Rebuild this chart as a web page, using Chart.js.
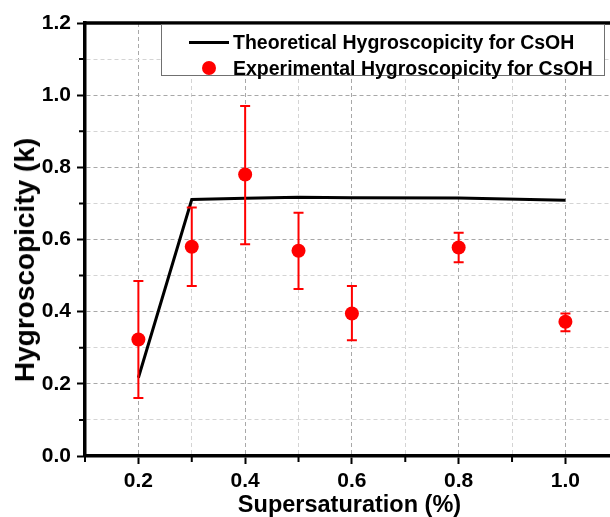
<!DOCTYPE html>
<html>
<head>
<meta charset="utf-8">
<script src="https://cdn.jsdelivr.net/npm/chart.js@4"></script>
<style>
  body { margin: 0; background: #fff; overflow: hidden; }
  #wrap { position: relative; width: 610px; height: 517px; overflow: hidden; }
  #legend {
    position: absolute; left: 161px; top: 24px; width: 442px; height: 50px;
    border: 1.5px solid #707070; background: #fff;
    font-family: "Liberation Sans", Arial, sans-serif; font-weight: bold; font-size: 19.5px; color: #000;
  }
  #legend .row { position: absolute; left: 0; height: 24px; line-height: 24px; white-space: nowrap; }
  #legend .sym { position: absolute; }
  #legend .txt { position: absolute; left: 71px; }
  #ytitle {
    position: absolute; left: 25px; top: 260px; white-space: nowrap;
    font-family: "Liberation Sans", Arial, sans-serif; font-weight: bold; font-size: 28px; line-height: 1;
    transform: translate(-50%, -50%) rotate(-90deg);
  }
</style>
</head>
<body>
<div id="wrap">
  <canvas id="chart" width="614" height="517"></canvas>
  <div id="ytitle">Hygroscopicity (k)</div>
  <div id="legend">
    <div class="row" style="top:5px">
      <span class="sym" style="left:27px;top:11px;width:40px;height:3px;background:#000"></span>
      <span class="txt">Theoretical Hygroscopicity for CsOH</span>
    </div>
    <div class="row" style="top:31px">
      <span class="sym" style="left:40px;top:5px;width:14px;height:14px;border-radius:50%;background:#ff0000"></span>
      <span class="txt">Experimental Hygroscopicity for CsOH</span>
    </div>
  </div>
</div>
<script>
// ===================================
// data
// ===================================
const ssTheory = [0.2, 0.3, 0.4, 0.5, 0.6, 0.8, 1.0];
const kTheory = [0.217, 0.711, 0.714, 0.717, 0.716, 0.715, 0.709];

const ssExp = [0.2, 0.3, 0.4, 0.5, 0.6, 0.8, 1.0];
const kExp = [0.323, 0.580, 0.780, 0.569, 0.395, 0.578, 0.372];
const kExpHigh = [0.485, 0.689, 0.970, 0.674, 0.471, 0.619, 0.395];
const kExpLow = [0.161, 0.471, 0.587, 0.463, 0.321, 0.537, 0.346];

const xTickValues = [0.1, 0.2, 0.3, 0.4, 0.5, 0.6, 0.7, 0.8, 0.9, 1.0];
const yTickValues = [0, 0.1, 0.2, 0.3, 0.4, 0.5, 0.6, 0.7, 0.8, 0.9, 1.0, 1.1, 1.2];

const FONT = '"Liberation Sans", Arial, sans-serif';

function isMajor(v) {
  return Math.round(v * 10) % 2 === 0;
}

// error bars for the experimental points
const errorBars = {
  id: 'errorBars',
  beforeDatasetDraw(chart, args) {
    if (args.index !== 0) return;
    const x = chart.scales.x, y = chart.scales.y, ctx = chart.ctx;
    ctx.save();
    ctx.strokeStyle = '#ff0000';
    ctx.lineWidth = 2;
    ssExp.forEach((s, i) => {
      const px = x.getPixelForValue(s);
      const top = y.getPixelForValue(kExpHigh[i]);
      const bot = y.getPixelForValue(kExpLow[i]);
      ctx.beginPath();
      ctx.moveTo(px, top); ctx.lineTo(px, bot);
      ctx.moveTo(px - 5, top); ctx.lineTo(px + 5, top);
      ctx.moveTo(px - 5, bot); ctx.lineTo(px + 5, bot);
      ctx.stroke();
    });
    ctx.restore();
  }
};

// top frame line and short minor tick marks
const frame = {
  id: 'frame',
  afterDraw(chart) {
    const x = chart.scales.x, y = chart.scales.y, ctx = chart.ctx;
    const area = chart.chartArea;
    ctx.save();
    ctx.strokeStyle = '#000';
    ctx.lineWidth = 3.5;
    ctx.beginPath();
    ctx.moveTo(area.left - 1.75, area.top);
    ctx.lineTo(area.right, area.top);
    ctx.stroke();
    ctx.lineWidth = 2;
    ctx.beginPath();
    xTickValues.filter(v => !isMajor(v)).forEach(v => {
      const px = x.getPixelForValue(v);
      ctx.moveTo(px, area.bottom); ctx.lineTo(px, area.bottom + 6);
    });
    yTickValues.filter(v => !isMajor(v)).forEach(v => {
      const py = y.getPixelForValue(v);
      ctx.moveTo(area.left, py); ctx.lineTo(area.left - 6, py);
    });
    ctx.stroke();
    ctx.restore();
  }
};

const gridColor = ctx => ctx.tick && !isMajor(ctx.tick.value) ? '#d4d4d4' : '#a8a8a8';
const tickColor = ctx => ctx.tick && !isMajor(ctx.tick.value) ? 'rgba(0,0,0,0)' : '#000';

new Chart(document.getElementById('chart'), {
  type: 'line',
  data: {
    datasets: [
      {
        label: 'Experimental Hygroscopicity for CsOH',
        data: ssExp.map((s, i) => ({x: s, y: kExp[i]})),
        showLine: false,
        pointRadius: 7,
        pointBackgroundColor: '#ff0000',
        pointBorderColor: '#ff0000',
        pointBorderWidth: 0
      },
      {
        label: 'Theoretical Hygroscopicity for CsOH',
        data: ssTheory.map((s, i) => ({x: s, y: kTheory[i]})),
        borderColor: '#000',
        borderWidth: 3,
        pointRadius: 0,
        tension: 0
      }
    ]
  },
  options: {
    responsive: false,
    animation: false,
    layout: { padding: { top: 23, right: 0, bottom: 0, left: 0 }, autoPadding: false },
    plugins: {
      legend: { display: false },
      tooltip: { enabled: false }
    },
    scales: {
      x: {
        type: 'linear',
        min: 0.1,
        max: 1.091,
        afterBuildTicks: s => { s.ticks = xTickValues.map(v => ({value: v})); },
        afterFit: s => { s.height = 61; },
        border: { color: '#000', width: 3.5, dash: [4, 3] },
        grid: { color: gridColor, lineWidth: 1, tickColor: tickColor, tickWidth: 2, tickLength: 8 },
        ticks: {
          color: '#000', padding: 5, maxRotation: 0, autoSkip: false,
          font: { family: FONT, weight: 'bold', size: 21 },
          callback: v => isMajor(v) ? v.toFixed(1) : ''
        },
        title: {
          display: true, text: 'Supersaturation (%)', color: '#000', padding: 0,
          font: { family: FONT, weight: 'bold', size: 23.5, lineHeight: 1 }
        }
      },
      y: {
        min: 0,
        max: 1.2,
        afterBuildTicks: s => { s.ticks = yTickValues.map(v => ({value: v})); },
        afterFit: s => { s.width = 85; },
        border: { color: '#000', width: 3.5, dash: [4, 3] },
        grid: { color: gridColor, lineWidth: 1, tickColor: tickColor, tickWidth: 2, tickLength: 8 },
        ticks: {
          color: '#000', padding: 6, autoSkip: false,
          font: { family: FONT, weight: 'bold', size: 21 },
          callback: v => isMajor(v) ? v.toFixed(1) : ''
        }
      }
    }
  },
  plugins: [errorBars, frame]
});
</script>
</body>
</html>
